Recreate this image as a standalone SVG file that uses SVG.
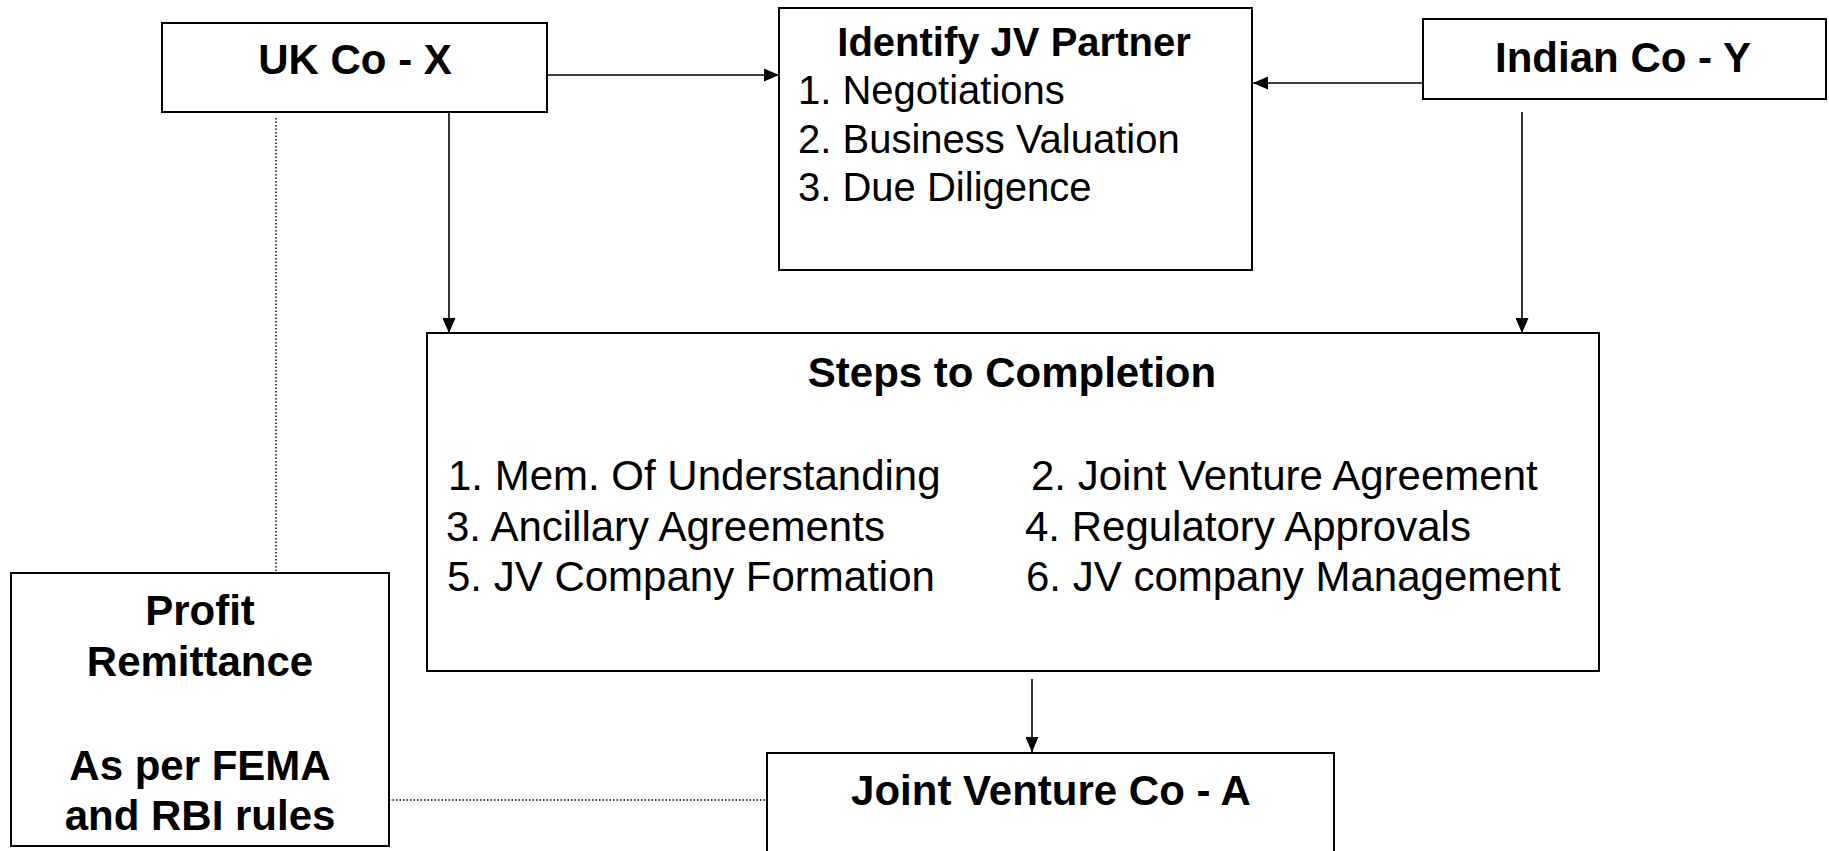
<svg xmlns="http://www.w3.org/2000/svg" width="1829" height="851" viewBox="0 0 1829 851">
  <style>
    .box { fill: #ffffff; stroke: #000000; stroke-width: 2; }
    .t { font-family: "Liberation Sans", Arial, sans-serif; fill: #000000; }
    .b { font-weight: bold; font-size: 42px; text-anchor: middle; }
    .r { font-size: 42px; }
    .r40 { font-size: 40px; }
    .b40 { font-weight: bold; font-size: 40px; text-anchor: middle; }
    .link { fill: none; stroke: #000000; stroke-width: 1.6; }
    .dot { fill: none; stroke: #000000; stroke-width: 1.4; stroke-dasharray: 1.5 2; }
  </style>
  <defs>
    <marker id="arrow" markerUnits="userSpaceOnUse" markerWidth="15" markerHeight="13" refX="15" refY="6.5" orient="auto">
      <path d="M0,0 L15,6.5 L0,13 Z" fill="#000000"/>
    </marker>
  </defs>
  <rect width="1829" height="851" fill="#ffffff"/>

  <!-- connectors -->
  <g id="connectors">
    <line class="link" x1="548" y1="75" x2="779" y2="75" marker-end="url(#arrow)"/>
    <line class="link" x1="1423" y1="83" x2="1253" y2="83" marker-end="url(#arrow)"/>
    <line class="link" x1="449" y1="112" x2="449" y2="333" marker-end="url(#arrow)"/>
    <line class="link" x1="1522" y1="112" x2="1522" y2="333" marker-end="url(#arrow)"/>
    <line class="link" x1="1032" y1="679" x2="1032" y2="752" marker-end="url(#arrow)"/>
    <line class="dot" x1="276" y1="118" x2="276" y2="573"/>
    <line class="dot" x1="389" y1="800" x2="767" y2="800"/>
  </g>

  <!-- UK company -->
  <g id="uk-co">
    <rect class="box" x="162" y="23" width="385" height="89"/>
    <text class="t b" x="355" y="74">UK Co - X</text>
  </g>

  <!-- Partner identification -->
  <g id="identify-partner">
    <rect class="box" x="779" y="8" width="473" height="262"/>
    <text class="t b40" x="1014" y="56">Identify JV Partner</text>
    <text class="t r40" x="798" y="104">1. Negotiations</text>
    <text class="t r40" x="798" y="153">2. Business Valuation</text>
    <text class="t r40" x="798" y="201">3. Due Diligence</text>
  </g>

  <!-- Indian company -->
  <g id="indian-co">
    <rect class="box" x="1423" y="19" width="403" height="80"/>
    <text class="t b" x="1623" y="72">Indian Co - Y</text>
  </g>

  <!-- Completion steps -->
  <g id="steps">
    <rect class="box" x="427" y="333" width="1172" height="338"/>
    <text class="t b" x="1012" y="387">Steps to Completion</text>
    <text class="t r" x="448" y="490">1. Mem. Of Understanding</text>
    <text class="t r" x="446" y="541">3. Ancillary Agreements</text>
    <text class="t r" x="447" y="591">5. JV Company Formation</text>
    <text class="t r" x="1031" y="490">2. Joint Venture Agreement</text>
    <text class="t r" x="1025" y="541">4. Regulatory Approvals</text>
    <text class="t r" x="1026" y="591">6. JV company Management</text>
  </g>

  <!-- Profit remittance -->
  <g id="profit-remittance">
    <rect class="box" x="11" y="573" width="378" height="273"/>
    <text class="t b" x="200" y="625">Profit</text>
    <text class="t b" x="200" y="676">Remittance</text>
    <text class="t b" x="200" y="780">As per FEMA</text>
    <text class="t b" x="200" y="830">and RBI rules</text>
  </g>

  <!-- Joint venture company -->
  <g id="jv-co">
    <rect class="box" x="767" y="753" width="567" height="110"/>
    <text class="t b" x="1051" y="805">Joint Venture Co - A</text>
  </g>
</svg>
